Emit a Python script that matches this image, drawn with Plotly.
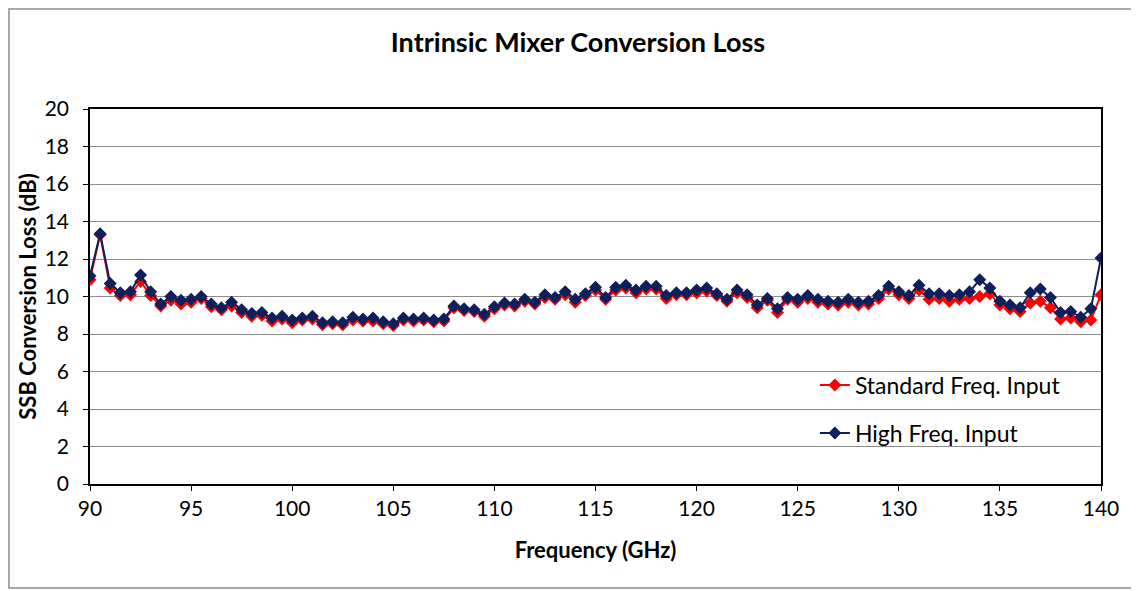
import plotly.graph_objects as go

freq_ghz = [90, 90.5, 91, 91.5, 92, 92.5, 93, 93.5, 94, 94.5,
            95, 95.5, 96, 96.5, 97, 97.5, 98, 98.5, 99, 99.5,
            100, 100.5, 101, 101.5, 102, 102.5, 103, 103.5, 104, 104.5,
            105, 105.5, 106, 106.5, 107, 107.5, 108, 108.5, 109, 109.5,
            110, 110.5, 111, 111.5, 112, 112.5, 113, 113.5, 114, 114.5,
            115, 115.5, 116, 116.5, 117, 117.5, 118, 118.5, 119, 119.5,
            120, 120.5, 121, 121.5, 122, 122.5, 123, 123.5, 124, 124.5,
            125, 125.5, 126, 126.5, 127, 127.5, 128, 128.5, 129, 129.5,
            130, 130.5, 131, 131.5, 132, 132.5, 133, 133.5, 134, 134.5,
            135, 135.5, 136, 136.5, 137, 137.5, 138, 138.5, 139, 139.5,
            140]

standard_input = [10.9, 13.3, 10.45, 10.05, 10.1, 10.8, 10.05, 9.5, 9.8, 9.6,
                  9.7, 9.9, 9.45, 9.3, 9.5, 9.15, 8.95, 9.0, 8.7, 8.8,
                  8.6, 8.75, 8.8, 8.5, 8.55, 8.5, 8.75, 8.7, 8.7, 8.55,
                  8.45, 8.75, 8.7, 8.75, 8.65, 8.7, 9.4, 9.25, 9.2, 8.95,
                  9.35, 9.55, 9.5, 9.75, 9.6, 9.95, 9.85, 10.1, 9.7, 10.05,
                  10.35, 9.85, 10.35, 10.45, 10.2, 10.4, 10.4, 9.9, 10.1, 10.1,
                  10.2, 10.3, 10.05, 9.75, 10.2, 9.95, 9.4, 9.8, 9.15, 9.85,
                  9.7, 9.9, 9.7, 9.6, 9.55, 9.7, 9.55, 9.6, 9.9, 10.4,
                  10.1, 9.9, 10.35, 9.85, 9.9, 9.75, 9.85, 9.9, 10.0, 10.15,
                  9.55, 9.35, 9.2, 9.65, 9.75, 9.4, 8.8, 8.85, 8.65, 8.75,
                  10.1]

high_input = [11.1, 13.35, 10.7, 10.2, 10.25, 11.15, 10.25, 9.6, 10.0, 9.8,
              9.85, 10.0, 9.6, 9.4, 9.7, 9.3, 9.1, 9.15, 8.85, 8.95,
              8.75, 8.85, 8.95, 8.6, 8.65, 8.6, 8.9, 8.8, 8.85, 8.65,
              8.55, 8.85, 8.8, 8.85, 8.75, 8.8, 9.5, 9.35, 9.3, 9.05,
              9.45, 9.65, 9.6, 9.85, 9.7, 10.1, 9.95, 10.25, 9.85, 10.15,
              10.5, 9.95, 10.5, 10.6, 10.35, 10.55, 10.55, 10.05, 10.2, 10.2,
              10.35, 10.45, 10.15, 9.85, 10.35, 10.1, 9.55, 9.9, 9.35, 9.95,
              9.85, 10.05, 9.85, 9.75, 9.7, 9.85, 9.7, 9.75, 10.05, 10.55,
              10.25, 10.05, 10.6, 10.15, 10.15, 10.05, 10.1, 10.25, 10.9, 10.45,
              9.75, 9.55, 9.4, 10.2, 10.4, 9.95, 9.15, 9.2, 8.9, 9.35,
              12.05]

x_ticks = [90, 95, 100, 105, 110, 115, 120, 125, 130, 135, 140]
y_ticks = [0, 2, 4, 6, 8, 10, 12, 14, 16, 18, 20]

FONT = "Lato, Carlito, 'Open Sans', sans-serif"
RED = "#FF0000"
NAVY = "#0E1F5B"

fig = go.Figure()
fig.add_trace(go.Scatter(
    x=freq_ghz, y=standard_input, mode="lines+markers",
    name="Standard Freq. Input", legendgroup="a",
    line=dict(color=RED, width=2),
    marker=dict(symbol="diamond", size=10, color=RED),
))
fig.add_trace(go.Scatter(
    x=freq_ghz, y=high_input, mode="lines+markers",
    name="High Freq. Input", legendgroup="b",
    line=dict(color=NAVY, width=2),
    marker=dict(symbol="diamond", size=10, color=NAVY),
))

# page body has an 8px margin, so the figure is sized/offset accordingly
W, H = 1131, 583
L, T = 82, 101
R = W - (1101 - 8)
B = H - (484 - 8)
pw, ph = W - L - R, H - T - B

fig.update_layout(
    width=W, height=H,
    margin=dict(l=L, r=R, t=T, b=B),
    paper_bgcolor="white", plot_bgcolor="white",
    font=dict(family=FONT, color="#000000", size=21),
    title=dict(text="<b>Intrinsic Mixer Conversion Loss</b>",
               x=(578 - 8 - L) / pw, xanchor="center", xref="paper",
               y=1 - (43 - 8) / H, yanchor="middle",
               font=dict(family=FONT, size=27, color="#000000")),
    showlegend=True,
    legend=dict(x=0.717, y=0.321, xanchor="left", yanchor="top",
                bgcolor="rgba(0,0,0,0)", traceorder="grouped",
                tracegroupgap=15, font=dict(family=FONT, size=23, color="#000000"),
                itemwidth=30),
    xaxis=dict(range=[90, 140], tickvals=x_ticks, ticks="outside", ticklen=5,
               tickcolor="#000000", showline=True, linecolor="#000000",
               linewidth=1.5, mirror=True, showgrid=False, zeroline=False,
               tickfont=dict(size=21),
               title=dict(text="<b>Frequency (GHz)</b>", standoff=24,
                          font=dict(size=22))),
    yaxis=dict(range=[0, 20], tickvals=y_ticks, ticks="outside", ticklen=5,
               tickcolor="#000000", showline=True, linecolor="#000000",
               linewidth=1.5, mirror=True, showgrid=True, gridcolor="#8C8C8C",
               gridwidth=1, zeroline=False, tickfont=dict(size=21),
               ticklabelstandoff=10,
               title=dict(text="<b>SSB Conversion Loss (dB)</b>", standoff=2,
                          font=dict(size=22))),
)

fig.add_shape(type="rect", xref="paper", yref="paper",
              x0=(1 - L) / pw, x1=(1127 - L) / pw,
              y0=-(B - 3) / ph, y1=1 + (T - 1) / ph,
              line=dict(color="#8C8C8C", width=1.5), layer="below")

fig.write_html("out.html")
